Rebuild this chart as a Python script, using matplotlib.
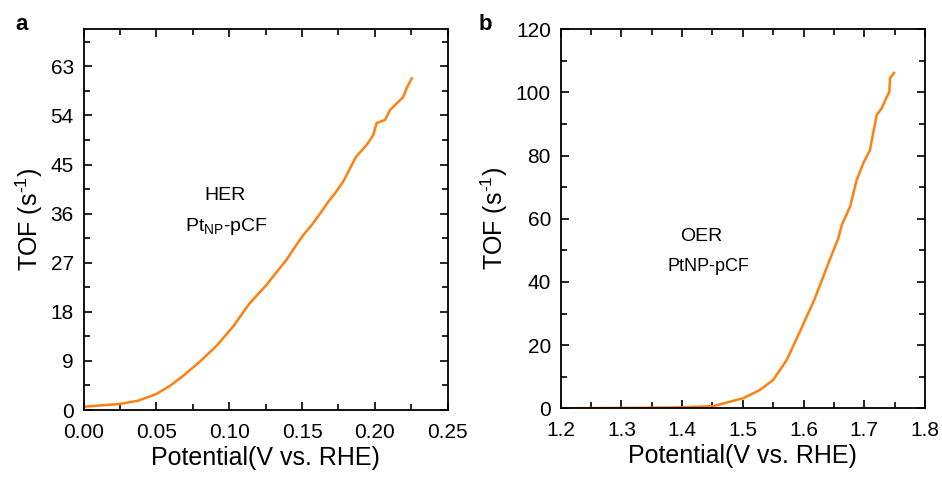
import matplotlib

matplotlib.use("Agg")
import matplotlib.pyplot as plt
from matplotlib.ticker import MultipleLocator

plt.rcParams["font.family"] = ["Liberation Sans", "DejaVu Sans"]
plt.rcParams["mathtext.fontset"] = "custom"
plt.rcParams["mathtext.rm"] = "Liberation Sans"
plt.rcParams["mathtext.it"] = "Liberation Sans"

# HER panel (a)
her_potential = [0.0, 0.0248, 0.0374, 0.050, 0.0592, 0.0683, 0.0798, 0.0912,
                 0.1026, 0.114, 0.1255, 0.1365, 0.1395, 0.1452, 0.1509, 0.1566,
                 0.1635, 0.168, 0.1726, 0.1783, 0.1818, 0.187, 0.1944, 0.1989,
                 0.2012, 0.207, 0.2104, 0.2161, 0.2195, 0.2218, 0.2253]
her_tof = [0.6, 1.1, 1.7, 2.93, 4.4, 6.23, 8.86, 11.73,
           15.27, 19.55, 22.9, 26.6, 27.6, 29.9, 32.1, 33.9,
           36.4, 38.2, 39.7, 41.9, 43.7, 46.4, 48.6, 50.4,
           52.6, 53.2, 55.0, 56.5, 57.4, 59.0, 60.8]

# OER panel (b)
oer_potential = [1.2, 1.33, 1.40, 1.4514, 1.5008, 1.528, 1.550, 1.5722, 1.594,
                 1.618, 1.6435, 1.6572, 1.6628, 1.6765, 1.6875, 1.6984, 1.7094,
                 1.714, 1.7205, 1.7287, 1.7358, 1.7413, 1.7424, 1.749]
oer_tof = [0.0, 0.15, 0.3, 0.7, 3.2, 5.8, 9.0, 15.3, 24.3,
           34.5, 47.2, 53.8, 58.0, 63.8, 72.3, 77.6, 81.8,
           86.5, 92.9, 95.0, 98.1, 100.2, 104.5, 106.2]

LINE_COLOR = "#ff8010"


def style_axes(ax):
    for sp in ax.spines.values():
        sp.set_linewidth(1.3)
    ax.tick_params(which="both", direction="in", top=True, right=True,
                   labelsize=15, width=1.2)
    ax.tick_params(which="major", length=6)
    ax.tick_params(which="minor", length=4)
    ax.tick_params(axis="y", pad=7)
    ax.tick_params(axis="x", pad=9)
    ax.set_xlabel("Potential(V vs. RHE)", fontsize=18, labelpad=3)
    ax.set_ylabel("TOF (s$^{\\text{-1}}$)", fontsize=18, labelpad=4)


fig = plt.figure(figsize=(9.42, 4.78), dpi=100)
ax1 = fig.add_axes([83.5 / 942, 1 - 410 / 478, (447.7 - 83.5) / 942, (410 - 29.3) / 478])
ax2 = fig.add_axes([560.7 / 942, 1 - 408.3 / 478, (925 - 560.7) / 942, (408.3 - 29.3) / 478])

ax1.plot(her_potential, her_tof, color=LINE_COLOR, lw=1.8)
ax1.set_xlim(0, 0.25)
ax1.set_ylim(0, 69.8)
ax1.xaxis.set_major_locator(MultipleLocator(0.05))
ax1.xaxis.set_minor_locator(MultipleLocator(0.025))
ax1.yaxis.set_major_locator(MultipleLocator(9))
ax1.yaxis.set_minor_locator(MultipleLocator(4.5))
ax1.xaxis.set_major_formatter(lambda v, p: f"{v:.2f}")
style_axes(ax1)
ax1.text(0.097, 39.4, "HER", fontsize=14, ha="center", va="center")
ax1.text(0.098, 33.6, "Pt$_{\\text{NP}}$-pCF", fontsize=14, ha="center", va="center")

ax2.plot(oer_potential, oer_tof, color=LINE_COLOR, lw=1.8)
ax2.set_xlim(1.2, 1.8)
ax2.set_ylim(0, 120)
ax2.xaxis.set_major_locator(MultipleLocator(0.1))
ax2.xaxis.set_minor_locator(MultipleLocator(0.05))
ax2.yaxis.set_major_locator(MultipleLocator(20))
ax2.yaxis.set_minor_locator(MultipleLocator(10))
ax2.xaxis.set_major_formatter(lambda v, p: f"{v:.1f}")
style_axes(ax2)
ax2.text(1.431, 54.4, "OER", fontsize=14, ha="center", va="center")
ax2.text(1.443, 44.9, "PtNP-pCF", fontsize=13, ha="center", va="center")

fig.text(22 / 942, 1 - 24 / 478, "a", fontsize=16, fontweight="bold", ha="center", va="center")
fig.text(485 / 942, 1 - 24 / 478, "b", fontsize=16, fontweight="bold", ha="center", va="center")

fig.savefig("out.png", dpi=100)
